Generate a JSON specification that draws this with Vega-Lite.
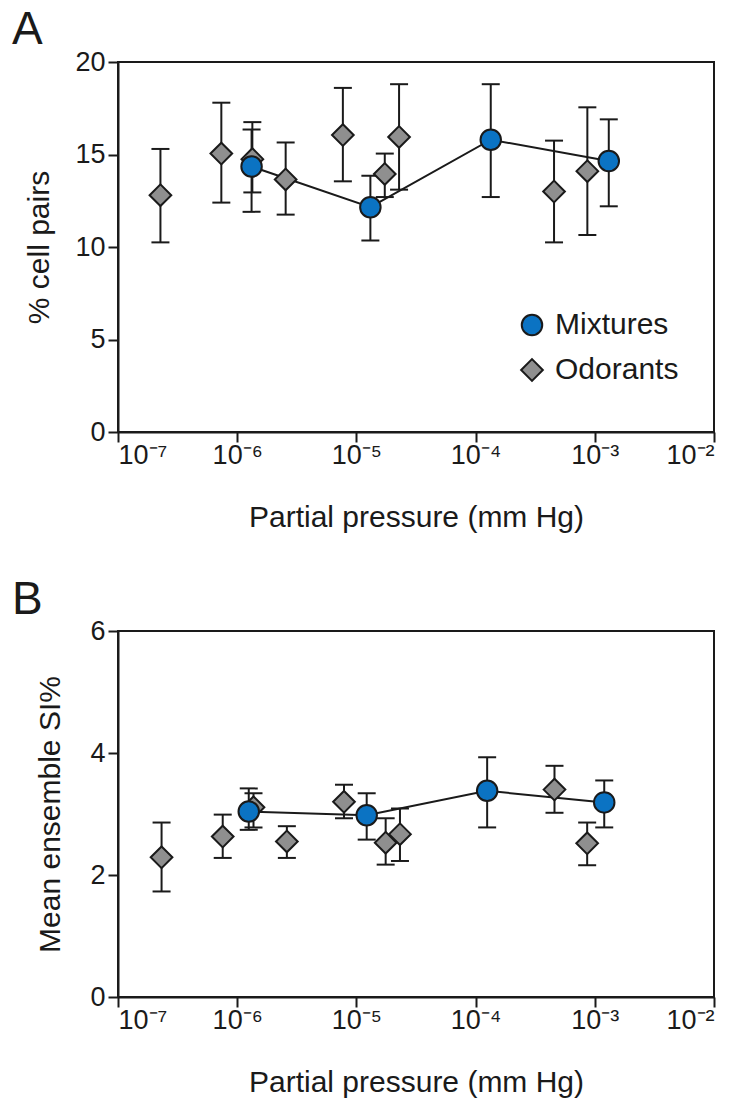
{
  "$schema": "https://vega.github.io/schema/vega-lite/v6.json",
  "padding": {"left": 11, "top": 6, "right": 5, "bottom": 0},
  "background": "white",
  "spacing": 43,
  "datasets": {
    "a": [
      {"group": "Odorants", "p": 2.27e-7, "val": 12.8, "lo": 10.25, "hi": 15.3},
      {"group": "Odorants", "p": 7.36e-7, "val": 15.05, "lo": 12.4, "hi": 17.8},
      {"group": "Odorants", "p": 1.34e-6, "val": 14.75, "lo": 12.95, "hi": 16.75},
      {"group": "Odorants", "p": 2.55e-6, "val": 13.65, "lo": 11.75, "hi": 15.65},
      {"group": "Odorants", "p": 7.7e-6, "val": 16.05, "lo": 13.55, "hi": 18.6},
      {"group": "Odorants", "p": 1.73e-5, "val": 13.95, "lo": 12.7, "hi": 15.05},
      {"group": "Odorants", "p": 2.28e-5, "val": 15.95, "lo": 13.1, "hi": 18.8},
      {"group": "Odorants", "p": 4.55e-4, "val": 13.0, "lo": 10.25, "hi": 15.75},
      {"group": "Odorants", "p": 8.66e-4, "val": 14.1, "lo": 10.65, "hi": 17.55},
      {"group": "Mixtures", "p": 1.32e-6, "val": 14.35, "lo": 11.9, "hi": 16.35},
      {"group": "Mixtures", "p": 1.31e-5, "val": 12.15, "lo": 10.35, "hi": 13.85},
      {"group": "Mixtures", "p": 1.34e-4, "val": 15.8, "lo": 12.7, "hi": 18.8},
      {"group": "Mixtures", "p": 1.31e-3, "val": 14.65, "lo": 12.2, "hi": 16.9}
    ],
    "b": [
      {"group": "Odorants", "p": 2.32e-7, "val": 2.29, "lo": 1.73, "hi": 2.86},
      {"group": "Odorants", "p": 7.56e-7, "val": 2.63, "lo": 2.28, "hi": 2.99},
      {"group": "Odorants", "p": 1.37e-6, "val": 3.11, "lo": 2.78, "hi": 3.34},
      {"group": "Odorants", "p": 2.61e-6, "val": 2.55, "lo": 2.28, "hi": 2.8},
      {"group": "Odorants", "p": 7.87e-6, "val": 3.2, "lo": 2.93, "hi": 3.48},
      {"group": "Odorants", "p": 1.76e-5, "val": 2.53, "lo": 2.17, "hi": 2.93},
      {"group": "Odorants", "p": 2.32e-5, "val": 2.67, "lo": 2.23, "hi": 3.09},
      {"group": "Odorants", "p": 4.59e-4, "val": 3.4, "lo": 3.02, "hi": 3.79},
      {"group": "Odorants", "p": 8.63e-4, "val": 2.52, "lo": 2.16, "hi": 2.86},
      {"group": "Mixtures", "p": 1.25e-6, "val": 3.04, "lo": 2.74, "hi": 3.42},
      {"group": "Mixtures", "p": 1.22e-5, "val": 2.98, "lo": 2.58, "hi": 3.34},
      {"group": "Mixtures", "p": 1.25e-4, "val": 3.38, "lo": 2.78, "hi": 3.93},
      {"group": "Mixtures", "p": 1.2e-3, "val": 3.19, "lo": 2.78, "hi": 3.55}
    ]
  },
  "resolve": {
    "scale": {"shape": "independent", "fill": "independent", "size": "independent", "stroke": "independent"},
    "legend": {"shape": "independent", "fill": "independent", "size": "independent", "stroke": "independent"}
  },
  "vconcat": [
    {
      "width": 596,
      "height": 370,
      "title": {"text": "A", "anchor": "start", "frame": "group", "dx": -106, "offset": -42, "baseline": "alphabetic", "fontSize": 46, "fontWeight": "normal"},
      "data": {"name": "a"},
      "encoding": {
        "x": {
          "field": "p", "type": "quantitative",
          "scale": {"type": "log", "domain": [1e-7, 1e-2], "nice": false},
          "axis": {
            "title": "Partial pressure (mm Hg)",
            "values": [1e-7, 1e-6, 1e-5, 1e-4, 1e-3, 1e-2],
            "labelExpr": "datum.value < 3e-7 ? '10⁻⁷' : datum.value < 3e-6 ? '10⁻⁶' : datum.value < 3e-5 ? '10⁻⁵' : datum.value < 3e-4 ? '10⁻⁴' : datum.value < 3e-3 ? '10⁻³' : '10⁻²'",
            "labelPadding": 0,
            "titlePadding": 34
          }
        }
      },
      "layer": [
        {
          "mark": {"type": "rule", "strokeWidth": 2, "color": "#1a1a1a"},
          "encoding": {
            "y": {"field": "lo", "type": "quantitative", "scale": {"domain": [0, 20], "nice": false}, "axis": {"title": "% cell pairs", "values": [0, 5, 10, 15, 20], "format": "d", "titlePadding": 20}},
            "y2": {"field": "hi"}
          }
        },
        {
          "mark": {"type": "tick", "orient": "horizontal", "size": 18, "thickness": 2, "color": "#1a1a1a", "opacity": 1},
          "encoding": {"y": {"field": "lo", "type": "quantitative"}}
        },
        {
          "mark": {"type": "tick", "orient": "horizontal", "size": 18, "thickness": 2, "color": "#1a1a1a", "opacity": 1},
          "encoding": {"y": {"field": "hi", "type": "quantitative"}}
        },
        {
          "transform": [{"filter": "datum.group === 'Mixtures'"}],
          "mark": {"type": "line", "color": "#1a1a1a", "strokeWidth": 2},
          "encoding": {"y": {"field": "val", "type": "quantitative"}}
        },
        {
          "mark": {"type": "point", "filled": true, "strokeWidth": 2, "opacity": 1},
          "encoding": {
            "y": {"field": "val", "type": "quantitative"},
            "shape": {"field": "group", "type": "nominal", "scale": {"domain": ["Mixtures", "Odorants"], "range": ["circle", "diamond"]}, "legend": {"title": null}},
            "fill": {"field": "group", "type": "nominal", "scale": {"domain": ["Mixtures", "Odorants"], "range": ["#0b73c3", "#8f8f8f"]}, "legend": {"title": null}},
            "stroke": {"field": "group", "type": "nominal", "scale": {"domain": ["Mixtures", "Odorants"], "range": ["#1a1a1a", "#1a1a1a"]}, "legend": {"title": null}},
            "size": {"field": "group", "type": "nominal", "scale": {"domain": ["Mixtures", "Odorants"], "range": [420, 470]}, "legend": {"title": null}}
          }
        }
      ]
    },
    {
      "width": 596,
      "height": 366,
      "title": {"text": "B", "anchor": "start", "frame": "group", "dx": -106, "offset": -43, "baseline": "alphabetic", "fontSize": 46, "fontWeight": "normal"},
      "data": {"name": "b"},
      "encoding": {
        "x": {
          "field": "p", "type": "quantitative",
          "scale": {"type": "log", "domain": [1e-7, 1e-2], "nice": false},
          "axis": {
            "title": "Partial pressure (mm Hg)",
            "values": [1e-7, 1e-6, 1e-5, 1e-4, 1e-3, 1e-2],
            "labelExpr": "datum.value < 3e-7 ? '10⁻⁷' : datum.value < 3e-6 ? '10⁻⁶' : datum.value < 3e-5 ? '10⁻⁵' : datum.value < 3e-4 ? '10⁻⁴' : datum.value < 3e-3 ? '10⁻³' : '10⁻²'",
            "labelPadding": 0,
            "titlePadding": 34
          }
        }
      },
      "layer": [
        {
          "mark": {"type": "rule", "strokeWidth": 2, "color": "#1a1a1a"},
          "encoding": {
            "y": {"field": "lo", "type": "quantitative", "scale": {"domain": [0, 6], "nice": false}, "axis": {"title": "Mean ensemble SI%", "values": [0, 2, 4, 6], "format": "d", "titlePadding": 24}},
            "y2": {"field": "hi"}
          }
        },
        {
          "mark": {"type": "tick", "orient": "horizontal", "size": 18, "thickness": 2, "color": "#1a1a1a", "opacity": 1},
          "encoding": {"y": {"field": "lo", "type": "quantitative"}}
        },
        {
          "mark": {"type": "tick", "orient": "horizontal", "size": 18, "thickness": 2, "color": "#1a1a1a", "opacity": 1},
          "encoding": {"y": {"field": "hi", "type": "quantitative"}}
        },
        {
          "transform": [{"filter": "datum.group === 'Mixtures'"}],
          "mark": {"type": "line", "color": "#1a1a1a", "strokeWidth": 2},
          "encoding": {"y": {"field": "val", "type": "quantitative"}}
        },
        {
          "mark": {"type": "point", "filled": true, "strokeWidth": 2, "opacity": 1},
          "encoding": {
            "y": {"field": "val", "type": "quantitative"},
            "shape": {"field": "group", "type": "nominal", "scale": {"domain": ["Mixtures", "Odorants"], "range": ["circle", "diamond"]}, "legend": null},
            "fill": {"field": "group", "type": "nominal", "scale": {"domain": ["Mixtures", "Odorants"], "range": ["#0b73c3", "#8f8f8f"]}, "legend": null},
            "stroke": {"field": "group", "type": "nominal", "scale": {"domain": ["Mixtures", "Odorants"], "range": ["#1a1a1a", "#1a1a1a"]}, "legend": null},
            "size": {"field": "group", "type": "nominal", "scale": {"domain": ["Mixtures", "Odorants"], "range": [420, 470]}, "legend": null}
          }
        }
      ]
    }
  ],
  "config": {
    "font": "Liberation Sans",
    "view": {"stroke": "#1a1a1a", "strokeWidth": 2},
    "axis": {
      "grid": false,
      "domainColor": "#1a1a1a", "domainWidth": 2,
      "tickColor": "#1a1a1a", "tickWidth": 2, "tickSize": 10,
      "labelFontSize": 27, "labelColor": "#1a1a1a", "labelPadding": 3,
      "titleFontSize": 30, "titleFontWeight": "normal", "titleColor": "#1a1a1a"
    },
    "legend": {
      "orient": "none", "legendX": 399, "legendY": 248,
      "padding": 0, "labelFontSize": 30, "labelColor": "#1a1a1a",
      "labelOffset": 8, "rowPadding": 15,
      "symbolStrokeWidth": 2
    },
    "title": {"color": "#1a1a1a", "font": "Liberation Sans"}
  }
}
